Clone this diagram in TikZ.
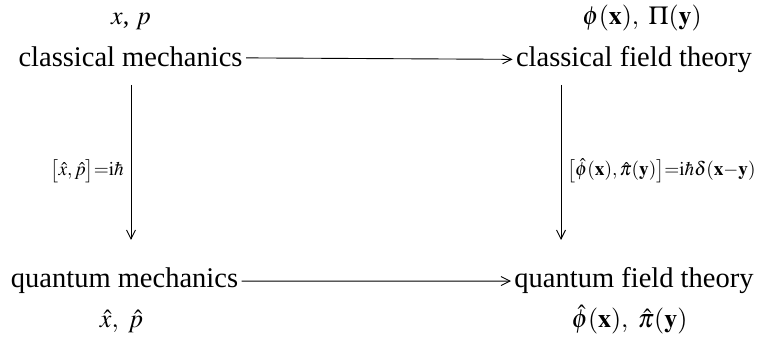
\documentclass[tikz,border=0pt]{standalone}
\IfFileExists{mathptmx.sty}{\usepackage{mathptmx}}{}
\usepackage[no-math]{fontspec}
\setmainfont{Liberation Serif}
\usetikzlibrary{arrows.meta}
\begin{document}
\begin{tikzpicture}[x=1pt,y=1pt,
  big/.style={font=\fontsize{28.5}{33}\selectfont},
  var/.style={font=\fontsize{26}{30}\selectfont, inner sep=1pt},
  lab/.style={font=\fontsize{19.3}{23}\selectfont, inner sep=0pt},
  conn/.style={-{Straight Barb[length=9pt,width=9pt]}, line width=0.9pt}]
\useasboundingbox (0,0) rectangle (758,344);
% main nodes
\node[big, anchor=base] (cm)  at (130.5,277) {classical mechanics};
\node[big, anchor=base] (cft) at (634,277) {classical field theory};
\node[big, anchor=base] (qm)  at (124.5,56) {quantum mechanics};
\node[big, anchor=base] (qft) at (634,56) {quantum field theory};
% variables
\node[var, anchor=base] (xp)   at (131,319) {$x$, $p$};
\node[var, anchor=base] (phi)  at (642,319) {$\phi(\mathbf{x}),\ \Pi(\mathbf{y})$};
\node[var, anchor=base] (hxp)  at (121.5,16) {$\hat{x},\ \hat{p}$};
\node[var, anchor=base] (hphi) at (629.5,16) {$\hat{\phi}(\mathbf{x}),\ \hat{\pi}(\mathbf{y})$};
% vertical arrow end points
\coordinate (l1) at (131,259);
\coordinate (l2) at (131,104);
\coordinate (r1) at (561,259);
\coordinate (r2) at (561,104);
% arrows
\draw[conn] (cm) -- (cft);
\draw[conn] (qm) -- (qft);
\draw[conn] (l1) -- (l2);
\draw[conn] (r1) -- (r2);
% commutator labels
\node[lab, anchor=base east] (cl) at (124,168) {$\bigl[\hat{x},\hat{p}\bigr]{=}\mathrm{i}\hbar$};
\node[lab, anchor=base west] (cr) at (567,168) {$\bigl[\hat{\phi}(\mathbf{x}),\hat{\pi}(\mathbf{y})\bigr]{=}\mathrm{i}\hbar\delta(\mathbf{x}{-}\mathbf{y})$};
\end{tikzpicture}
\end{document}
